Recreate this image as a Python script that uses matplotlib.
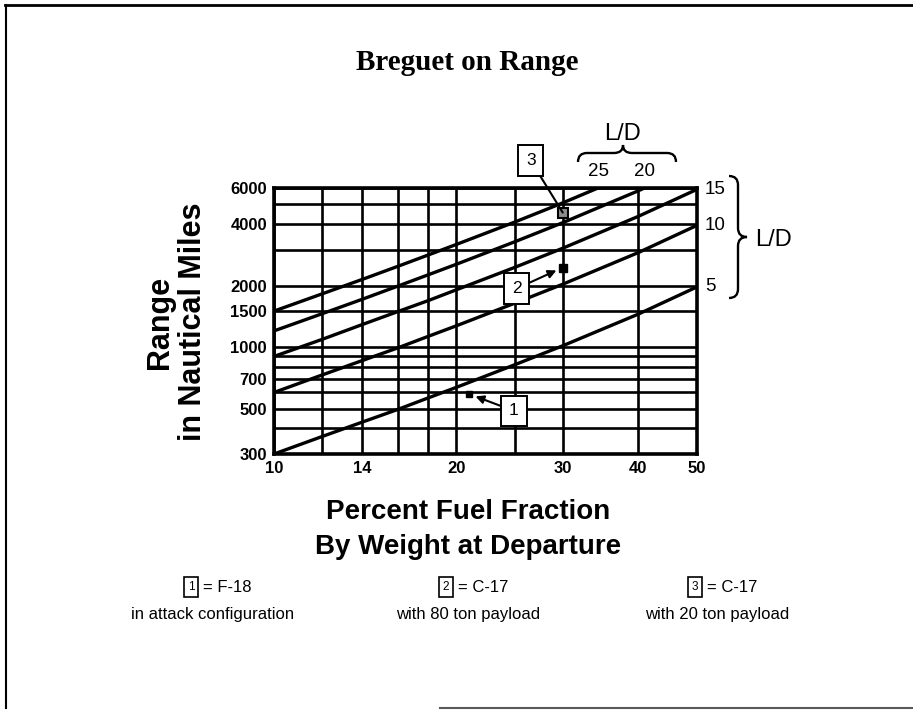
import matplotlib
matplotlib.use("Agg")
import numpy as np
import matplotlib.pyplot as plt
from matplotlib.path import Path
from matplotlib.patches import PathPatch
from matplotlib.lines import Line2D
from matplotlib.ticker import FixedLocator, FixedFormatter, NullLocator

W, H = 913, 715
SANS = "Liberation Sans"
SERIF = "Liberation Serif"

# percent fuel fraction where the lines were read (vertical grid lines)
fuel_pct = [10, 12, 14, 16, 18, 20, 25, 30, 40, 50]

# range in nautical miles
range_ld5 = [300, 365, 430, 495, 565, 635, 820, 1015, 1450, 1970]
range_ld10 = [600, 730, 860, 990, 1130, 1270, 1640, 2030, 2900, 3940]
range_ld15 = [900, 1090, 1290, 1490, 1690, 1905, 2455, 3045, 4360, 5910]
range_ld20 = [1200, 1455, 1715, 1985, 2260, 2540, 3275, 4060, 5815, 7890]
range_ld25 = [1500, 1820, 2145, 2480, 2825, 3175, 4090, 5075, 7265, 9860]

# grid and tick labels
x_grid = [10, 12, 14, 16, 18, 20, 25, 30, 40, 50]
x_ticklabels = ["10", "", "14", "", "", "20", "", "30", "40", "50"]
y_grid = [300, 400, 500, 600, 700, 800, 900, 1000, 1500, 2000, 3000, 4000, 5000, 6000]
y_ticklabels = ["300", "", "500", "", "700", "", "", "1000", "1500", "2000", "", "4000", "", "6000"]

# aircraft points
aircraft_num = ["1", "2", "3"]
aircraft_x = [21, 30, 30]
aircraft_y = [590, 2450, 4550]
aircraft_name = ["F-18", "C-17", "C-17"]
aircraft_note = ["in attack configuration", "with 80 ton payload", "with 20 ton payload"]


def fx(x):
    return x / W


def fy(y):
    return 1 - y / H


def ftext(x, y, s, **kw):
    return fig.text(fx(x), fy(y), s, **kw)


def draw_path(pts_codes):
    verts = [(fx(p[0]), fy(p[1])) for p, c in pts_codes]
    codes = [c for p, c in pts_codes]
    patch = PathPatch(Path(verts, codes), transform=fig.transFigure,
                      fill=False, lw=1.7, ec="black")
    fig.add_artist(patch)


fig = plt.figure(figsize=(W / 100, H / 100), dpi=100)

# page border like the scanned slide
fig.add_artist(Line2D([fx(5), fx(913)], [fy(5), fy(5)], transform=fig.transFigure, color="black", lw=2))
fig.add_artist(Line2D([fx(6), fx(6)], [fy(5), fy(708)], transform=fig.transFigure, color="black", lw=1.5))
fig.add_artist(Line2D([fx(440), fx(913)], [fy(708), fy(708)], transform=fig.transFigure, color="0.35", lw=1.5))

ax = fig.add_axes([fx(274), fy(454), 423 / W, 266 / H])
ax.set_xscale("log")
ax.set_yscale("log")
ax.set_xlim(10, 50)
ax.set_ylim(300, 6000)

ax.xaxis.set_major_locator(FixedLocator(x_grid))
ax.xaxis.set_major_formatter(FixedFormatter(x_ticklabels))
ax.xaxis.set_minor_locator(NullLocator())
ax.yaxis.set_major_locator(FixedLocator(y_grid))
ax.yaxis.set_major_formatter(FixedFormatter(y_ticklabels))
ax.yaxis.set_minor_locator(NullLocator())

ax.grid(True, color="black", lw=1.9)
ax.set_axisbelow(True)
ax.tick_params(length=0, labelsize=12, pad=5)
for lab in ax.get_xticklabels() + ax.get_yticklabels():
    lab.set_fontweight("bold")
    lab.set_family(SANS)
for sp in ax.spines.values():
    sp.set_linewidth(2.6)

for r in [range_ld5, range_ld10, range_ld15, range_ld20, range_ld25]:
    ax.plot(fuel_pct, r, color="black", lw=2.4)

# aircraft markers
ax.plot(aircraft_x[0], aircraft_y[0], "s", ms=5, color="black")
ax.plot(aircraft_x[1], aircraft_y[1], "s", ms=6, color="black")
ax.plot(aircraft_x[2], aircraft_y[2], "s", ms=7, mfc="0.55", mec="black", mew=1.5)

box = dict(boxstyle="square,pad=0.45", fc="white", ec="black", lw=1.4)
ax.annotate(aircraft_num[0], xy=(aircraft_x[0], aircraft_y[0]), xytext=(45, -17),
            textcoords="offset pixels", ha="center", va="center", fontsize=12.5,
            family=SANS, bbox=box,
            arrowprops=dict(arrowstyle="-|>", color="black", lw=1.5,
                            shrinkA=0, shrinkB=5, mutation_scale=12))
ax.annotate(aircraft_num[1], xy=(aircraft_x[1], aircraft_y[1]), xytext=(-46, -21),
            textcoords="offset pixels", ha="center", va="center", fontsize=12.5,
            family=SANS, bbox=box,
            arrowprops=dict(arrowstyle="-|>", color="black", lw=1.5,
                            shrinkA=0, shrinkB=5, mutation_scale=12))
ax.annotate(aircraft_num[2], xy=(aircraft_x[2], aircraft_y[2]), xytext=(-32, 52),
            textcoords="offset pixels", ha="center", va="center", fontsize=12.5,
            family=SANS, bbox=box, annotation_clip=False,
            arrowprops=dict(arrowstyle="-", color="black", lw=1.5,
                            shrinkA=0, shrinkB=0))

# L/D labels at the right edge
for lbl, r in [("15", range_ld15), ("10", range_ld10), ("5", range_ld5)]:
    ax.annotate(lbl, xy=(fuel_pct[-1], min(r[-1], 6000)), xytext=(8, 0),
                textcoords="offset pixels", ha="left", va="center",
                fontsize=13.5, family=SANS, annotation_clip=False)

# L/D labels on top where the lines leave the plot
for lbl, r in [("25", range_ld25), ("20", range_ld20)]:
    xc = 10 ** np.interp(np.log10(6000), np.log10(r), np.log10(fuel_pct))
    ax.annotate(lbl, xy=(xc, 6000), xytext=(0, 8), textcoords="offset pixels",
                ha="center", va="bottom", fontsize=13.5, family=SANS,
                annotation_clip=False)

# braces
M, L, C = Path.MOVETO, Path.LINETO, Path.CURVE3
draw_path([((729, 176), M), ((738, 176), C), ((738, 185), C), ((738, 228), L),
           ((738, 237), C), ((747, 237), C), ((738, 237), C), ((738, 246), C),
           ((738, 289), L), ((738, 298), C), ((729, 298), C)])
draw_path([((578, 162), M), ((578, 153), C), ((587, 153), C), ((614, 153), L),
           ((623, 153), C), ((623, 145), C), ((623, 153), C), ((632, 153), C),
           ((667, 153), L), ((676, 153), C), ((676, 162), C)])
ftext(773, 240, "L/D", fontsize=17, family=SANS, ha="center", va="center")
ftext(623, 134, "L/D", fontsize=17, family=SANS, ha="center", va="center")

# titles
ftext(467, 62, "Breguet on Range", fontsize=21, family=SERIF, weight="bold",
      ha="center", va="center")
ftext(160, 322, "Range", fontsize=22, family=SANS, weight="bold",
      ha="center", va="center", rotation=90)
ftext(193, 322, "in Nautical Miles", fontsize=22, family=SANS, weight="bold",
      ha="center", va="center", rotation=90)
ftext(468, 512, "Percent Fuel Fraction", fontsize=20, family=SANS, weight="bold",
      ha="center", va="center")
ftext(468, 547, "By Weight at Departure", fontsize=20, family=SANS, weight="bold",
      ha="center", va="center")

# key below the chart
key_x = [213, 468, 717]
small_box = dict(boxstyle="square,pad=0.35", fc="white", ec="black", lw=1.2)
for i in range(3):
    ftext(key_x[i] - 22, 587, aircraft_num[i], fontsize=8.5, family=SANS,
          ha="center", va="center", bbox=small_box)
    ftext(key_x[i] - 10, 587, "= " + aircraft_name[i], fontsize=12, family=SANS,
          ha="left", va="center")
    ftext(key_x[i], 614, aircraft_note[i], fontsize=12, family=SANS,
          ha="center", va="center")

fig.savefig("out.png", dpi=100)
